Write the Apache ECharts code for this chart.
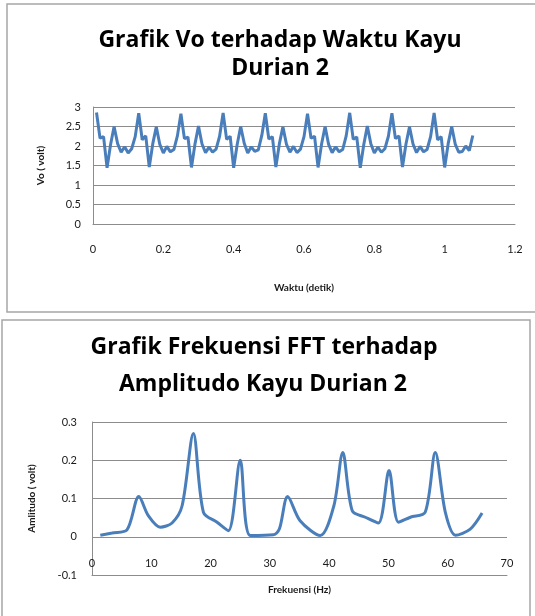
<!DOCTYPE html>
<html>
<head>
<meta charset="utf-8">
<script src="https://cdn.jsdelivr.net/npm/echarts@6/dist/echarts.min.js"></script>
<style>
  html, body { margin: 0; padding: 0; background: #fff; }
  #main { width: 535px; height: 616px; }
</style>
</head>
<body>
<div id="main"></div>
<script>
// waktu (detik) tiap sampel
var waktu = [
  0.01,0.02,0.03,0.04,0.05,0.06,0.07,0.08,0.09,0.10,0.11,0.12,
  0.13,0.14,0.15,0.16,0.17,0.18,0.19,0.20,0.21,0.22,0.23,0.24,
  0.25,0.26,0.27,0.28,0.29,0.30,0.31,0.32,0.33,0.34,0.35,0.36,
  0.37,0.38,0.39,0.40,0.41,0.42,0.43,0.44,0.45,0.46,0.47,0.48,
  0.49,0.50,0.51,0.52,0.53,0.54,0.55,0.56,0.57,0.58,0.59,0.60,
  0.61,0.62,0.63,0.64,0.65,0.66,0.67,0.68,0.69,0.70,0.71,0.72,
  0.73,0.74,0.75,0.76,0.77,0.78,0.79,0.80,0.81,0.82,0.83,0.84,
  0.85,0.86,0.87,0.88,0.89,0.90,0.91,0.92,0.93,0.94,0.95,0.96,
  0.97,0.98,0.99,1.00,1.01,1.02,1.03,1.04,1.05,1.06,1.07,1.08
];
// tegangan Vo (volt)
var vo = [
  2.86,2.20,2.24,1.44,2.04,2.50,2.06,1.84,1.98,1.82,1.93,2.24,
  2.84,2.16,2.26,1.46,2.06,2.49,2.04,1.82,1.99,1.85,1.91,2.26,
  2.83,2.19,2.23,1.45,2.05,2.51,2.05,1.83,1.97,1.84,1.92,2.25,
  2.85,2.17,2.25,1.44,2.04,2.50,2.07,1.82,1.98,1.86,1.90,2.27,
  2.84,2.18,2.24,1.46,2.06,2.49,2.05,1.84,1.99,1.83,1.92,2.24,
  2.83,2.20,2.25,1.45,2.05,2.50,2.04,1.83,1.98,1.85,1.91,2.26,
  2.85,2.17,2.23,1.44,2.04,2.51,2.06,1.82,1.97,1.84,1.93,2.25,
  2.84,2.19,2.26,1.46,2.05,2.49,2.05,1.83,1.99,1.85,1.91,2.24,
  2.85,2.16,2.24,1.45,2.06,2.50,2.05,1.84,1.86,2.00,1.88,2.27
];
// frekuensi (Hz) dan amplitudo (volt) hasil FFT
var frekuensi = [1.4,3.4,5.9,7.9,9.5,11.5,13.5,15.2,17.1,18.8,21.1,23.0,25.0,26.7,30.6,31.6,33.0,35.1,38.5,40.8,42.3,43.9,46.1,48.3,50.1,51.7,53.7,56.2,57.9,59.6,61.3,63.8,65.8];
var amplitudo = [0.004,0.010,0.018,0.105,0.055,0.025,0.036,0.081,0.270,0.064,0.038,0.016,0.200,0.003,0.005,0.020,0.105,0.042,0.003,0.081,0.220,0.068,0.051,0.036,0.173,0.038,0.051,0.064,0.220,0.064,0.004,0.020,0.062];

function pairs(xs, ys) {
  var out = [];
  for (var i = 0; i < xs.length; i++) out.push([xs[i], ys[i]]);
  return out;
}

var grey = '#8c8c8c';
var txt = '#1a1a1a';
var font = 'Lato';
var titleStyle = { fontFamily: 'Open Sans', fontWeight: 'bold', fontSize: 23, color: '#000' };

var myChart = echarts.init(document.getElementById('main'));

var option = {
  animation: false,
  graphic: [
    { type: 'rect', shape: { x: 7, y: 4, width: 540, height: 308 }, style: { fill: 'none', stroke: '#a6a6a6', lineWidth: 1.5 } },
    { type: 'rect', shape: { x: 2, y: 320, width: 528, height: 310 }, style: { fill: 'none', stroke: '#a6a6a6', lineWidth: 1.5 } }
  ],
  title: [
    { text: 'Grafik Vo terhadap Waktu Kayu', left: 275, top: 24, textAlign: 'center', textStyle: titleStyle },
    { text: 'Durian 2', left: 275, top: 52, textAlign: 'center', textStyle: titleStyle },
    { text: 'Grafik Frekuensi FFT terhadap', left: 259, top: 331, textAlign: 'center', textStyle: titleStyle },
    { text: 'Amplitudo Kayu Durian 2', left: 258, top: 368, textAlign: 'center', textStyle: titleStyle }
  ],
  grid: [
    { left: 93, top: 107, width: 422, height: 117, outerBoundsMode: 'none' },
    { left: 92, top: 422, width: 415, height: 153, outerBoundsMode: 'none' }
  ],
  xAxis: [
    {
      gridIndex: 0, type: 'value', min: 0, max: 1.2, interval: 0.2,
      name: 'Waktu (detik)', nameLocation: 'middle', nameGap: 59,
      nameTextStyle: { fontFamily: font, fontWeight: 'bold', fontSize: 10, color: txt },
      axisLine: { show: true, lineStyle: { color: grey } },
      axisTick: { show: false },
      splitLine: { show: false },
      axisLabel: { margin: 20, fontFamily: font, fontSize: 11, color: txt }
    },
    {
      gridIndex: 1, type: 'value', min: 0, max: 70, interval: 10,
      name: 'Frekuensi (Hz)', nameLocation: 'middle', nameGap: 10,
      nameTextStyle: { fontFamily: font, fontWeight: 'bold', fontSize: 10, color: txt },
      axisLine: { show: true, onZero: false, lineStyle: { color: grey } },
      axisTick: { show: false },
      splitLine: { show: false },
      axisLabel: { inside: true, margin: 6, fontFamily: font, fontSize: 11, color: txt }
    }
  ],
  yAxis: [
    {
      gridIndex: 0, type: 'value', min: 0, max: 3, interval: 0.5,
      name: 'Vo ( volt)', nameLocation: 'middle', nameGap: 47,
      nameTextStyle: { fontFamily: font, fontWeight: 'bold', fontSize: 10, color: txt },
      axisLine: { show: true, lineStyle: { color: grey } },
      axisTick: { show: false },
      splitLine: { show: true, lineStyle: { color: grey, width: 1 } },
      axisLabel: { margin: 12, fontFamily: font, fontSize: 11, color: txt }
    },
    {
      gridIndex: 1, type: 'value', min: -0.1, max: 0.3, interval: 0.1,
      name: 'Amlitudo ( volt)', nameLocation: 'middle', nameGap: 55,
      nameTextStyle: { fontFamily: font, fontWeight: 'bold', fontSize: 10, color: txt },
      axisLine: { show: true, lineStyle: { color: grey } },
      axisTick: { show: false },
      splitLine: { show: true, lineStyle: { color: grey, width: 1 } },
      axisLabel: { margin: 15, fontFamily: font, fontSize: 11, color: txt }
    }
  ],
  series: [
    {
      type: 'line', xAxisIndex: 0, yAxisIndex: 0,
      data: pairs(waktu, vo),
      showSymbol: false, smooth: false,
      lineStyle: { color: '#4a7ebb', width: 3 }
    },
    {
      type: 'line', xAxisIndex: 1, yAxisIndex: 1,
      data: pairs(frekuensi, amplitudo),
      showSymbol: false, smooth: 0.3,
      lineStyle: { color: '#4a7ebb', width: 3 }
    }
  ]
};

myChart.setOption(option);
</script>
</body>
</html>
